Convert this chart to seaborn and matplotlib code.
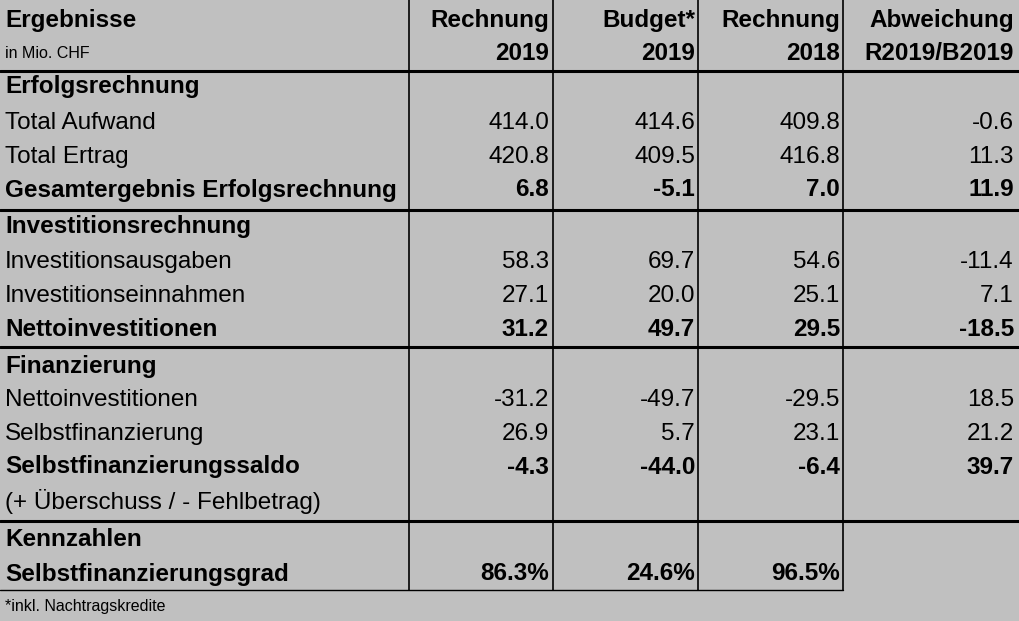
import matplotlib
matplotlib.use("Agg")
import matplotlib.pyplot as plt
import seaborn as sns

sns.set_theme(style="white", rc={"font.family": ["Liberation Sans Narrow", "Liberation Sans", "DejaVu Sans"],
                                 "text.color": "black"})

BG = "#c0c0c0"

# header
col_head1 = ["Rechnung", "Budget*", "Rechnung", "Abweichung"]
col_head2 = ["2019", "2019", "2018", "R2019/B2019"]

# table rows: label, values, bold flag
labels = ["Erfolgsrechnung", "Total Aufwand", "Total Ertrag", "Gesamtergebnis Erfolgsrechnung",
          "Investitionsrechnung", "Investitionsausgaben", "Investitionseinnahmen", "Nettoinvestitionen",
          "Finanzierung", "Nettoinvestitionen", "Selbstfinanzierung", "Selbstfinanzierungssaldo",
          "(+ Überschuss / - Fehlbetrag)", "Kennzahlen", "Selbstfinanzierungsgrad"]
r2019 = ["", "414.0", "420.8", "6.8", "", "58.3", "27.1", "31.2", "", "-31.2", "26.9", "-4.3", "", "", "86.3%"]
b2019 = ["", "414.6", "409.5", "-5.1", "", "69.7", "20.0", "49.7", "", "-49.7", "5.7", "-44.0", "", "", "24.6%"]
r2018 = ["", "409.8", "416.8", "7.0", "", "54.6", "25.1", "29.5", "", "-29.5", "23.1", "-6.4", "", "", "96.5%"]
abw = ["", "-0.6", "11.3", "11.9", "", "-11.4", "7.1", "-18.5", "", "18.5", "21.2", "39.7", "", "", ""]
bold = [1, 0, 0, 1, 1, 0, 0, 1, 1, 0, 0, 1, 0, 1, 1]
footnote = "*inkl. Nachtragskredite"

row_y = [87, 123, 157, 190, 227, 262, 296, 330, 366, 400, 434, 467, 501, 540, 574]
col_right = [549, 695, 840, 1014]
vlines = [409, 553, 698, 843]
thick = [71, 210, 347, 521]

fig = plt.figure(figsize=(10.19, 6.21), dpi=100, facecolor=BG)
ax = fig.add_axes([0, 0, 1, 1])
ax.set_facecolor(BG)
ax.set_xlim(0, 1019)
ax.set_ylim(621, 0)
ax.axis("off")

fs = 17.5
for x in vlines:
    ax.plot([x, x], [0, 590], color="black", lw=1.2)
for y in thick:
    ax.plot([0, 1019], [y, y], color="black", lw=2.2)
ax.plot([0, 843], [590, 590], color="black", lw=1.0)

ax.text(5, 20, "Ergebnisse", fontsize=fs, fontweight="bold", va="center", color="black")
ax.text(5, 54, "in Mio. CHF", fontsize=11.5, va="center", color="black")
for xr, h1, h2 in zip(col_right, col_head1, col_head2):
    ax.text(xr, 20, h1, fontsize=fs, fontweight="bold", va="center", ha="right", color="black")
    ax.text(xr, 54, h2, fontsize=fs, fontweight="bold", va="center", ha="right", color="black")

for i, lab in enumerate(labels):
    w = "bold" if bold[i] else "normal"
    ax.text(5, row_y[i], lab, fontsize=fs, fontweight=w, va="center", color="black")
    for xr, col in zip(col_right, [r2019, b2019, r2018, abw]):
        if col[i]:
            ax.text(xr, row_y[i], col[i], fontsize=fs, fontweight=w, va="center", ha="right", color="black")

ax.text(5, 606, footnote, fontsize=11.5, va="center", color="black")

fig.savefig("out.png", dpi=100, facecolor=BG)
